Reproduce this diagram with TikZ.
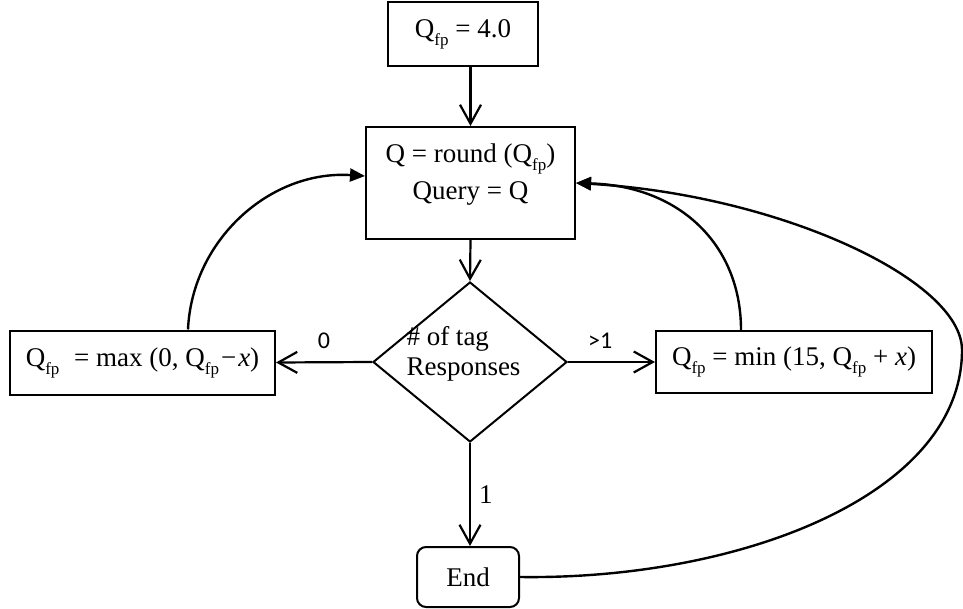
\documentclass[tikz,border=0pt]{standalone}
\usepackage{fontspec}
\setmainfont{Liberation Serif}
\newfontfamily\lblfont{Carlito}
\usetikzlibrary{arrows.meta,shapes.geometric}
\newcommand\fpsub{\raisebox{-8pt}{\fontsize{17}{17}\selectfont fp}}
\newcommand\Qfp{Q\fpsub}
\begin{document}
\begin{tikzpicture}[x=1pt,y=-1pt,
  every node/.style={font=\fontsize{27}{32}\selectfont},
  box/.style={draw, rectangle, line width=2pt, inner sep=0pt, align=center},
  dia/.style={draw, diamond, line width=2pt, inner sep=0pt, minimum width=194pt, minimum height=160pt},
  flow/.style={line width=2.2pt, -{Straight Barb[length=19pt,width=21pt,line width=2.2pt]}},
  back/.style={line width=2.4pt, -{Triangle[length=15pt,width=13pt]}},
  lbl/.style={font=\lblfont\fontsize{24}{28}\selectfont, inner sep=0pt},
  slbl/.style={font=\fontsize{27}{30}\selectfont, inner sep=0pt},
  ]
\useasboundingbox (0,0) rectangle (963,609);

\node[box, minimum width=150pt, minimum height=64pt] (init) at (463,34) {\Qfp{} = 4.0};
\node[box, minimum width=209pt, minimum height=112pt] (upd) at (470.5,183)
  {Q = round (\Qfp)\\[5pt]Query = Q\rule[-22pt]{0pt}{0pt}};
\node[dia] (dec) at (470,362) {};
\node[align=left, inner sep=0pt, font=\fontsize{27}{30}\selectfont] (dectxt) at (463.5,353.5) {\# of tag\\Responses};
\node[box, minimum width=265pt, minimum height=64pt] (left) at (142.5,362.5)
  {\Qfp\hspace{8pt} = max (0, \Qfp\kern2pt−\kern2pt\textit{x})};
\node[box, minimum width=276pt, minimum height=62pt] (right) at (794,362)
  {\Qfp{} = min (15, \Qfp{} + \textit{x})};
\node[box, rounded corners=9pt, minimum width=102pt, minimum height=60pt] (end) at (468,577) {End};
\coordinate (rmid) at (962,350);

\draw[flow] (init.south -| upd.north) -- (upd.north);
\draw[flow] (upd.south) -- (dec.north);
\draw[flow] (dec.west) -- node[lbl, above=12pt] {0} (left.east);
\draw[flow] (dec.east) -- node[lbl, above=12pt, pos=0.37] {>1} (right.west);
\draw[flow] (dec.south) -- node[slbl, right=8pt] {1} (dec.south |- end.north);

\draw[back] ([xshift=45.5pt]left.north) .. controls (192,240) and (270,170) .. ([yshift=7pt]upd.west);
\draw[back] ([xshift=-53pt]right.north) .. controls (741,245) and (680,186) .. (upd.east);
\draw[back] (end.east) .. controls (740,580) and (962,495) .. (rmid)
  .. controls (962,280) and (780,195) .. (upd.east);
\end{tikzpicture}
\end{document}
